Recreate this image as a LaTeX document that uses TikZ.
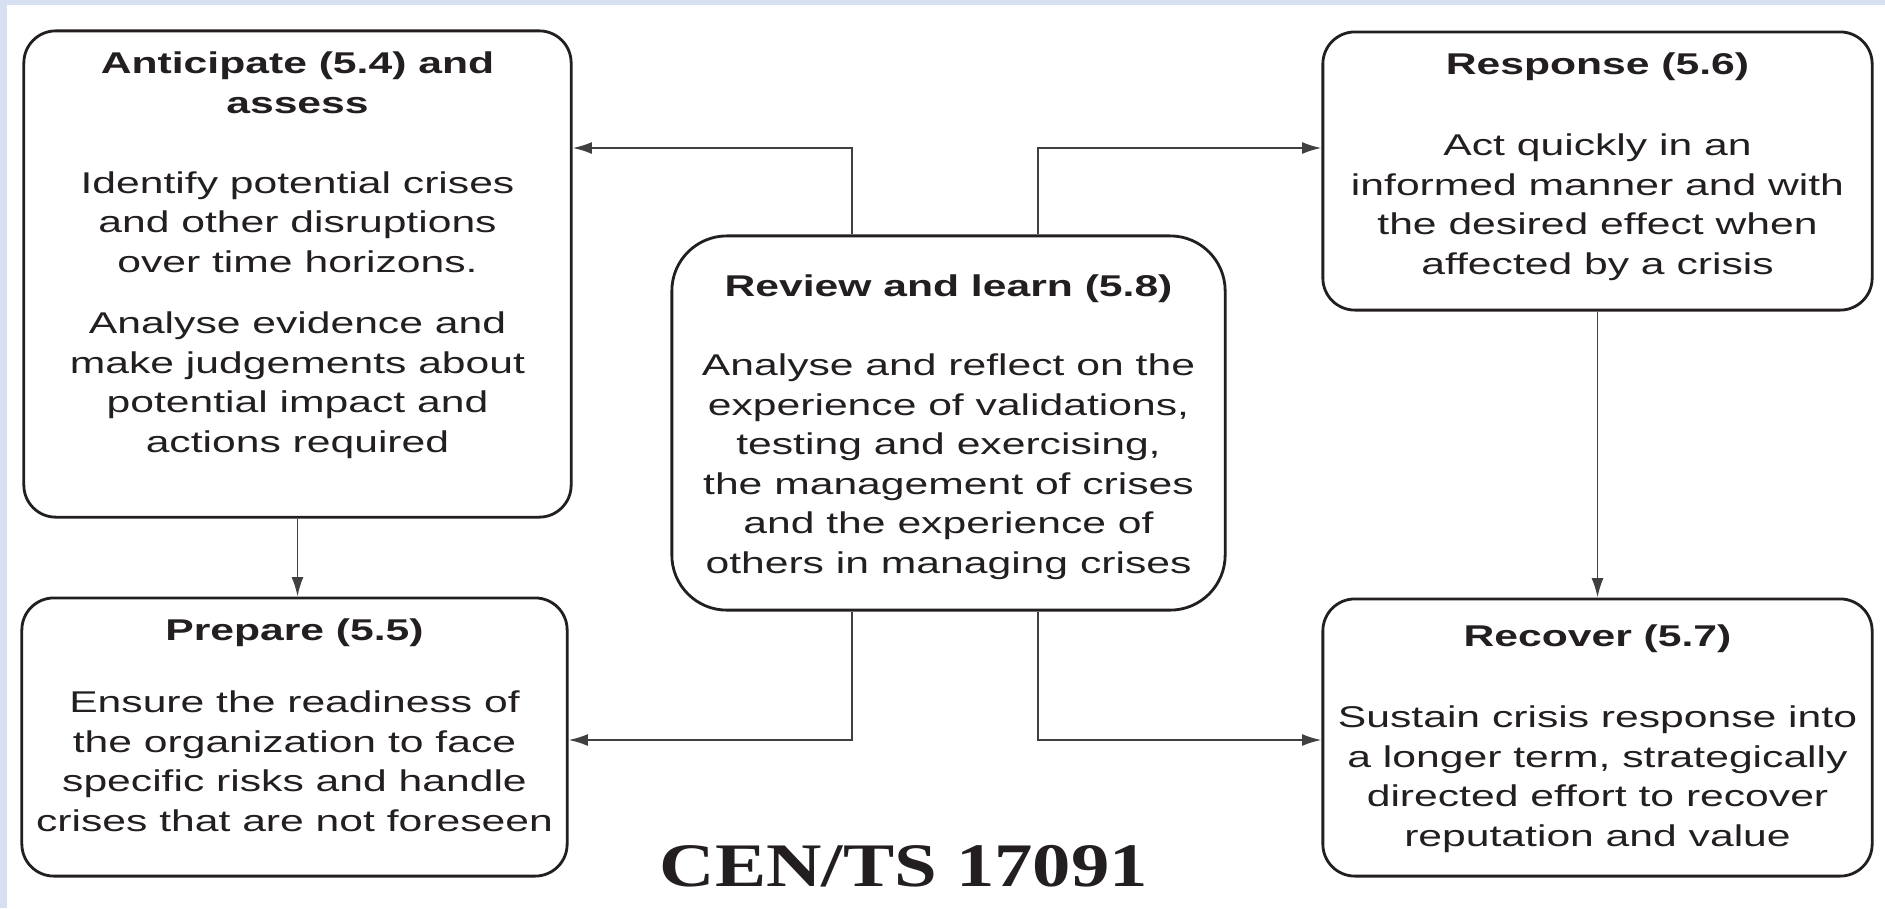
\documentclass[tikz,border=0pt]{standalone}
\usepackage{fontspec}
\setmainfont{Liberation Sans}[FakeStretch=1.42]
\newfontfamily\stdfont{Liberation Serif}[FakeStretch=1.24]
\usetikzlibrary{positioning,arrows.meta}
\definecolor{frame}{RGB}{215,224,240}
\definecolor{ink}{RGB}{35,31,32}

\begin{document}
\begin{tikzpicture}[
x=0.01cm, y=-0.01cm,
card/.style={
  draw=ink,
  line width=0.8pt,
  rounded corners=0.32cm,
  inner sep=0pt
},
txt/.style={
  align=center,
  inner sep=0pt,
  text=ink,
  font=\fontsize{8.54pt}{11.24pt}\selectfont
},
link/.style={
  draw=black!75,
  line width=0.55pt,
  -{Latex[length=5.5pt,width=3.4pt]}
}
]
\useasboundingbox (0,0) rectangle (1885,908);
\fill[frame] (0,0) rectangle (1885,5);
\fill[frame] (0,0) rectangle (7,908);

\node[card, minimum width=5.47cm, minimum height=4.86cm] (ant) at (297.5,274) {};
\node[txt, below=0.22cm of ant.north] (anttxt)
  {\textbf{Anticipate (5.4) and}\\\textbf{assess}\\[0.4cm]
   Identify potential crises\\and other disruptions\\over time horizons.\\[0.22cm]
   Analyse evidence and\\make judgements about\\potential impact and\\actions required};

\node[card, minimum width=5.45cm, minimum height=2.78cm] (prep) at (294.5,737) {};
\node[txt, below=0.21cm of prep.north] (preptxt)
  {\textbf{Prepare (5.5)}\\[0.33cm]
   Ensure the readiness of\\the organization to face\\specific risks and handle\\crises that are not foreseen};

\node[card, rounded corners=0.55cm, minimum width=5.53cm, minimum height=3.74cm] (rev) at (948.5,423) {};
\node[txt, below=0.4cm of rev.north] (revtxt)
  {\textbf{Review and learn (5.8)}\\[0.39cm]
   Analyse and reflect on the\\experience of validations,\\testing and exercising,\\the management of crises\\and the experience of\\others in managing crises};

\node[card, minimum width=5.49cm, minimum height=2.78cm] (resp) at (1597.5,171) {};
\node[txt, below=0.21cm of resp.north] (resptxt)
  {\textbf{Response (5.6)}\\[0.42cm]
   Act quickly in an\\informed manner and with\\the desired effect when\\affected by a crisis};

\node[card, minimum width=5.49cm, minimum height=2.77cm] (rec) at (1597.5,737.5) {};
\node[txt, below=0.26cm of rec.north] (rectxt)
  {\textbf{Recover (5.7)}\\[0.42cm]
   Sustain crisis response into\\a longer term, strategically\\directed effort to recover\\reputation and value};

\node[anchor=base, text=ink, font=\stdfont\bfseries\fontsize{17.6pt}{20pt}\selectfont] (std) at (904,886) {CEN/TS 17091};

\coordinate (lft) at (852,0);
\coordinate (rgt) at (1038,0);
\coordinate (hi) at (0,148);
\coordinate (lo) at (0,740);

\draw[link] (ant.south) -- (ant.south |- prep.north);
\draw[link] (resp) -- (rec);
\draw[link] (rev.north -| lft) |- (ant.east |- hi);
\draw[link] (rev.north -| rgt) |- (resp.west |- hi);
\draw[link] (rev.south -| lft) |- (prep.east |- lo);
\draw[link] (rev.south -| rgt) |- (rec.west |- lo);
\end{tikzpicture}
\end{document}
